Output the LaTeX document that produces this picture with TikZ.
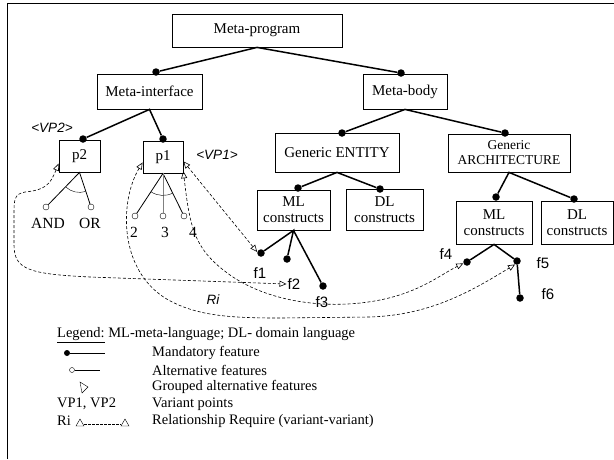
\documentclass[tikz,border=0pt]{standalone}
\usepackage{fontspec}
\setmainfont{Liberation Serif}
\newfontfamily\lblfont{Liberation Sans}
\usetikzlibrary{arrows.meta}

\begin{document}
\begin{tikzpicture}[x=1pt,y=-1pt,>=latex,
        box/.style={draw,line width=.8pt,inner sep=1pt,align=center,font=\fontsize{15}{16}\selectfont},
        dot/.style={circle,fill,inner sep=0pt,minimum size=7.5pt},
        alt/.style={circle,draw,fill=white,inner sep=0pt,minimum size=6pt},
        tie/.style={line width=1.5pt},
        req/.style={dash pattern=on 3pt off 2pt,line width=.6pt,
            {Triangle[open,length=7pt,width=6pt]}-{Triangle[open,length=7pt,width=6pt]}},
        lbl/.style={font=\lblfont\fontsize{15}{16}\selectfont,inner sep=1pt},
        txt/.style={font=\fontsize{15.5}{16}\selectfont,inner sep=1pt},
        leg/.style={font=\fontsize{14.5}{16}\selectfont,anchor=west,inner sep=0pt}]
            \useasboundingbox (0,0) rectangle (614,459);
            \draw[line width=.8pt] (7,459)--(7,3)--(614,3);
            % boxes
            \node[box,minimum width=170pt,minimum height=33pt] (prog) at (257,30.5) {Meta-program};
            \node[box,minimum width=105pt,minimum height=35pt] (intf) at (149.5,91.5) {Meta-interface};
            \node[box,minimum width=84pt,minimum height=35pt] (body) at (405,91.5) {Meta-body};
            \node[box,minimum width=41pt,minimum height=32pt] (p2) at (79.5,156) {p2};
            \node[box,minimum width=40pt,minimum height=32pt] (p1) at (163,157) {p1};
            \node[box,minimum width=124pt,minimum height=39pt] (ent) at (337,152.5) {Generic ENTITY};
            \node[box,minimum width=122pt,minimum height=38pt,font=\fontsize{13.5}{15}\selectfont] (arch) at (509,153) {Generic\\ARCHITECTURE};
            \node[box,minimum width=73pt,minimum height=40pt] (mle) at (293.5,210) {ML\\constructs};
            \node[box,minimum width=77pt,minimum height=41pt] (dle) at (384.5,210) {DL\\constructs};
            \node[box,minimum width=76pt,minimum height=43pt] (mla) at (494,222.5) {ML\\constructs};
            \node[box,minimum width=72pt,minimum height=43pt] (dla) at (577,222.5) {DL\\constructs};
            % mandatory links
            \node[dot] (dintf) at (156,72) {};
            \node[dot] (dbody) at (401,73) {};
            \node[dot] (dp2) at (83,139) {};
            \node[dot] (dp1) at (163,139) {};
            \node[dot] (dent) at (342,133) {};
            \node[dot] (darch) at (505,133) {};
            \node[dot] (dmle) at (298,188) {};
            \node[dot] (ddle) at (380,189) {};
            \node[dot] (dmla) at (496,197) {};
            \node[dot] (ddla) at (574,199) {};
            \node[dot] (f1d) at (261,253) {};
            \node[dot] (f2d) at (287,259) {};
            \node[dot] (f3d) at (323,286) {};
            \node[dot] (f4d) at (467,262) {};
            \node[dot] (f5d) at (517,261) {};
            \node[dot] (f6d) at (520,298) {};
            \draw[tie] (dintf)--(prog.south)--(dbody);
            \draw[tie] (dp2)--(intf.south)--(dp1);
            \draw[tie] (dent)--(body.south)--(darch);
            \draw[tie] (dmle)--(ent.south)--(ddle);
            \draw[tie] (dmla)--(arch.south)--(ddla);
            \draw[tie] (f1d)--(mle.south)--(f2d);
            \draw[tie] (mle.south)--(f3d);
            \draw[tie] (f4d)--(mla.south)--(f5d)--(f6d);
            \node[lbl] (f1) at (260,273) {f1};
            \node[lbl] (f2) at (294,284) {f2};
            \node[lbl] (f3) at (322,302) {f3};
            \node[lbl] (f4) at (446,254) {f4};
            \node[lbl] (f5) at (543,263) {f5};
            \node[lbl] (f6) at (548,294) {f6};
            % alternatives
            \node[alt] (cand) at (46,207) {};
            \node[alt] (cor) at (91,207) {};
            \node[alt] (c2) at (135,216) {};
            \node[alt] (c3) at (163,216) {};
            \node[alt] (c4) at (184,216) {};
            \draw[line width=.8pt] (cand)--(p2.south)--(cor);
            \draw[line width=.8pt] (c2)--(p1.south)--(c4);
            \draw[gray,line width=1pt] (p1.south)--(c3);
            \draw (p2.south) ++(72:20) arc (72:133:20);
            \draw (p1.south) ++(64:22) arc (64:123:22);
            \node[txt] (and) at (48,223) {AND};
            \node[txt] (or) at (90,223) {OR};
            \node[txt] (t2) at (134,232) {2};
            \node[txt] (t3) at (165,232) {3};
            \node[txt] (t4) at (193,232) {4};
            \node[lbl,font=\lblfont\itshape\fontsize{13.5}{15}\selectfont] (vp2) at (52,128) {<VP2>};
            \node[lbl,font=\lblfont\itshape\fontsize{13.5}{15}\selectfont] (vp1) at (217,155) {<VP1>};
            % requires
            \draw[req] (p2.200) .. controls (50,185) and (45,190) .. (25,192) .. controls (14,194) and (14,200) .. (14,215) -- (14,245) .. controls (14,270) and (30,274) .. (90,277) -- (f2.west);
            \draw[req] (p1.195) .. controls (120,200) and (118,268) .. (165,298) .. controls (195,316) and (230,318) .. (280,318) -- (370,317) .. controls (430,315) and (470,292) .. (f5d.240);
            \draw[req] (p1.-12) -- (f1d.165);
            \draw[req] (p1.-35) .. controls (190,230) and (195,250) .. (230,275) .. controls (270,303) and (330,310) .. (380,300) .. controls (420,292) and (440,275) .. (f4d.200);
            \node[lbl,font=\lblfont\itshape\fontsize{13.5}{15}\selectfont] (ri) at (213,300) {Ri};
            % legend
            \node[leg] (legend) at (57,335) {\underline{Legend:}\ ML-meta-language; DL- domain language};
            \node[dot,minimum size=6pt] (lmand) at (67,353) {};
            \coordinate (lmand-e) at (105,353);
            \draw (lmand)--(lmand-e);
            \node[alt,minimum size=5pt] (lalt) at (72,370) {};
            \coordinate (lalt-e) at (100,370);
            \draw (lalt)--(lalt-e);
            \draw (80,382)--(88,387)--(82,393)--cycle;
            \node[leg] (lvp) at (57,404) {VP1, VP2};
            \node[leg] (lri) at (57,421) {Ri};
            \draw (76,426)--(80,419)--(84,426)--cycle;
            \draw (121,426)--(125,419)--(129,426)--cycle;
            \draw[dash pattern=on 2.5pt off 1.5pt,line width=.6pt] (84,424)--(121,424);
            \node[leg] (tmand) at (152,353) {Mandatory feature};
            \node[leg] (talt) at (152,370) {Alternative features};
            \node[leg] (tgrp) at (152,387) {Grouped alternative features};
            \node[leg] (tvp) at (152,404) {Variant points};
            \node[leg] (tri) at (152,421) {Relationship Require (variant-variant)};
        \end{tikzpicture}
\end{document}
